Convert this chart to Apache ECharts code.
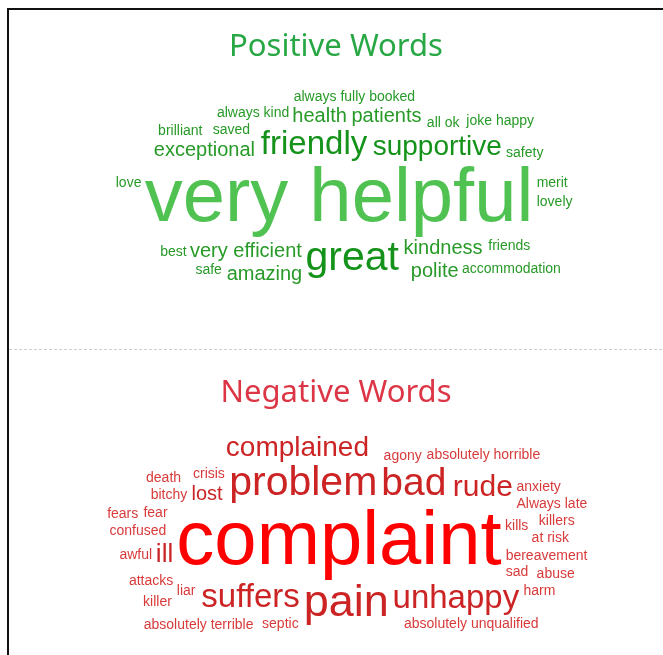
<!DOCTYPE html>
<html><head><meta charset="utf-8">
<script src="https://cdn.jsdelivr.net/npm/echarts@6/dist/echarts.min.js"></script>
<style>
html,body{margin:0;padding:0;background:#fff;overflow:hidden;width:663px;height:655px}
#frame{position:absolute;left:7px;top:8px;width:720px;height:720px;border:2px solid #111;box-sizing:border-box}
#chart{position:absolute;left:9px;top:10px;width:654px;height:645px}
</style></head>
<body><div id="frame"></div><div id="chart"></div>
<script>
// ---- data ----
const positiveWords = ['very helpful','great','friendly','supportive','very efficient','kindness','exceptional','amazing','polite','health','patients','saved','friends','always kind','best','all ok','accommodation','safety','safe','merit','always fully booked','brilliant','lovely','joke happy','love'];
const positiveValues = [40,22,18,15,11,11,11,11,11,11,11,8,8,8,8,8,8,8,8,8,8,8,8,8,8];
const negativeWords = ['complaint','pain','problem','bad','suffers','unhappy','rude','complained','ill','lost','kills','bereavement','confused','septic','absolutely unqualified','sad','liar','fear','attacks','awful','bitchy','crisis','agony','absolutely terrible','Always late','absolutely horrible','at risk','killers','abuse','killer','fears','death','anxiety','harm'];
const negativeValues = [40,24,22,21,18,18,16,15,14,11,8,8,8,8,8,8,8,8,8,8,8,8,8,8,8,8,8,8,8,8,8,8,8,8];
const titles = ['Positive Words','Negative Words'];

// ---- layout (computed spiral placement) ----
const W = 654, H = 645;
const FONT = '"Liberation Sans", Arial, sans-serif';
const ctx = document.createElement('canvas').getContext('2d');
const MINF = 14, MAXF = 76;
function layoutCloud(words, values, area){
  const vmin = Math.min(...values), vmax = Math.max(...values);
  const items = words.map((w,i)=>({name:w, value:values[i], idx:i,
    size: Math.round(MINF + (values[i]-vmin)/(vmax-vmin)*(MAXF-MINF))}));
  items.sort((a,b)=>b.value-a.value || a.idx-b.idx);
  const placed = [];
  const ell = (area.y1-area.y0)/(area.x1-area.x0);
  const cx = area.cx, cy = area.cy;
  items.forEach((it,k)=>{
    ctx.font = it.size + 'px ' + FONT;
    const w = ctx.measureText(it.name).width + 3;
    const h = it.size*0.95 + 3;
    const phase = k*2.39996;
    for(let t=0;t<600;t+=0.03){
      const r = 1.2*t;
      const x = cx + r*Math.cos(t+phase);
      const y = cy + r*Math.sin(t+phase)*ell;
      const rc = {x0:x-w/2,x1:x+w/2,y0:y-h/2,y1:y+h/2};
      if(rc.x0<area.x0||rc.x1>area.x1||rc.y0<area.y0||rc.y1>area.y1) continue;
      if(placed.some(p=>!(rc.x1<=p.x0||rc.x0>=p.x1||rc.y1<=p.y0||rc.y0>=p.y1))) continue;
      placed.push(rc); it.x=x; it.y=y; it.rank=k; break;
    }
  });
  return items.filter(it=>it.x!==undefined);
}
const posItems = layoutCloud(positiveWords, positiveValues, {x0:105,x1:575,y0:76,y1:282,cx:330,cy:190});
const negItems = layoutCloud(negativeWords, negativeValues, {x0:80,x1:580,y0:418,y1:631,cx:330,cy:533});

function posColor(it){ return it.rank===0 ? '#4fc251' : (it.size>=25 ? '#14921a' : '#279a27'); }
function negColor(it){ return it.rank===0 ? '#ff0000' : (it.size>=19 ? '#cc2424' : '#d83a3a'); }
function toData(items, colorFn){
  return items.map(it=>({name:it.name, value:[it.x,it.y],
    label:{fontSize:it.size, color:colorFn(it)}}));
}

const chart = echarts.init(document.getElementById('chart'));
chart.setOption({
  animation:false,
  title:[
    {text:titles[0], left:'center', top:17, textStyle:{fontFamily:'Noto Sans', fontSize:31, fontWeight:'normal', color:'#28a745'}},
    {text:titles[1], left:'center', top:363, textStyle:{fontFamily:'Noto Sans', fontSize:31, fontWeight:'normal', color:'#dc3545'}}
  ],
  grid:{left:0,right:0,top:0,bottom:0},
  xAxis:{type:'value', min:0, max:W, show:false},
  yAxis:{type:'value', min:0, max:H, inverse:true, show:false},
  graphic:[{type:'line', shape:{x1:0,y1:339.5,x2:W,y2:339.5}, style:{stroke:'#cfcfcf', lineWidth:1, lineDash:[3,2]}, silent:true}],
  series:[
    {type:'scatter', symbolSize:0, silent:true, itemStyle:{opacity:1}, data:toData(posItems,posColor),
     label:{show:true, position:'inside', formatter:p=>p.name, fontFamily:FONT, opacity:1}},
    {type:'scatter', symbolSize:0, silent:true, itemStyle:{opacity:1}, data:toData(negItems,negColor),
     label:{show:true, position:'inside', formatter:p=>p.name, fontFamily:FONT, opacity:1}}
  ]
});
</script></body></html>
